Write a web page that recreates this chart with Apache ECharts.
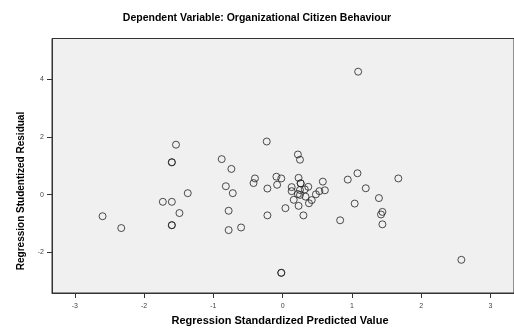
<!DOCTYPE html>
<html>
<head>
<meta charset="utf-8">
<script src="https://cdn.jsdelivr.net/npm/echarts@6/dist/echarts.min.js"></script>
<style>html,body{margin:0;padding:0;background:#fff}#c{width:514px;height:336px}</style>
</head>
<body>
<div id="c"></div>
<script>
// Regression standardized predicted value (x) and studentized residual (y)
var predicted = [-2.60,-2.33,-1.73,-1.60,-1.49,-1.37,-1.54,-1.60,-1.60,-1.60,-1.60,
  -0.88,-0.74,-0.82,-0.72,-0.78,-0.78,-0.60,-0.23,-0.40,-0.42,-0.09,-0.02,-0.08,-0.22,-0.22,
  0.04,-0.02,-0.02,0.22,0.25,0.23,0.13,0.13,0.26,0.26,0.37,0.32,0.25,0.22,0.25,0.33,0.16,
  0.53,0.61,0.48,0.42,0.38,0.23,0.30,0.58,0.94,1.08,1.20,1.04,1.39,0.83,1.44,1.42,1.44,1.67,1.09,2.58];
var residual = [-0.75,-1.16,-0.25,-0.25,-0.64,0.05,1.73,1.12,1.12,-1.06,-1.06,
  1.23,0.89,0.29,0.05,-0.56,-1.23,-1.14,1.84,0.56,0.40,0.62,0.56,0.34,0.21,-0.72,
  -0.47,-2.71,-2.71,1.39,1.21,0.58,0.26,0.12,0.39,0.39,0.27,0.18,0.16,0.02,-0.01,-0.07,-0.18,
  0.12,0.15,0.01,-0.19,-0.30,-0.39,-0.72,0.45,0.52,0.74,0.22,-0.31,-0.12,-0.89,-0.60,-0.69,-1.03,0.56,4.26,-2.26];
var xTicks = [-3,-2,-1,0,1,2,3];
var yTicks = [-2,0,2,4];
var titleText = 'Dependent Variable: Organizational Citizen Behaviour';
var xName = 'Regression Standardized Predicted Value';
var yName = 'Regression Studentized Residual';

var points = predicted.map(function(v,i){return [v, residual[i]];});
var chart = echarts.init(document.getElementById('c'), null, {renderer:'canvas'});
var FF = 'Liberation Sans, Arial, sans-serif';
chart.setOption({
  animation:false,
  backgroundColor:'#ffffff',
  title:{text:titleText,left:'center',top:8,textStyle:{fontFamily:FF,fontSize:10.5,fontWeight:'bold',color:'#000'}},
  grid:{left:52,top:38.5,width:463,height:254.5,show:true,backgroundColor:'#f0f0f0',borderColor:'#333',borderWidth:1},
  xAxis:{type:'value',min:-3.33,max:3.34,
    axisLine:{show:true,onZero:false,lineStyle:{color:'#333'}},
    axisTick:{show:true,length:5,customValues:xTicks,lineStyle:{color:'#333'}},
    axisLabel:{customValues:xTicks,fontFamily:FF,fontSize:7,color:'#444',margin:10},
    splitLine:{show:false}},
  yAxis:{type:'value',min:-3.41,max:5.41,
    axisLine:{show:true,onZero:false,lineStyle:{color:'#333'}},
    axisTick:{show:true,length:5,customValues:yTicks,lineStyle:{color:'#333'}},
    axisLabel:{customValues:yTicks,fontFamily:FF,fontSize:7,color:'#444',margin:8},
    splitLine:{show:false}},
  graphic:[
    {type:'text',x:280,y:321,style:{text:xName,fontFamily:FF,fontSize:11,fontWeight:'bold',fill:'#000',align:'center',verticalAlign:'middle'}},
    {type:'text',x:21.5,y:191,rotation:Math.PI/2,style:{text:yName,fontFamily:FF,fontSize:10,fontWeight:'bold',fill:'#000',align:'center',verticalAlign:'middle'}}
  ],
  series:[{type:'scatter',data:points,symbol:'circle',symbolSize:7,
    itemStyle:{color:'rgba(0,0,0,0)',borderColor:'#222',borderWidth:1}}]
});
</script>
</body>
</html>
